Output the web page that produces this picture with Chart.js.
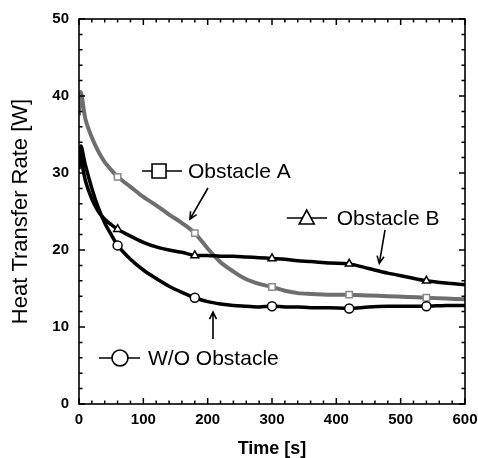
<!DOCTYPE html>
<html>
<head>
<meta charset="utf-8">
<script src="https://cdn.jsdelivr.net/npm/chart.js@4.4.1/dist/chart.umd.min.js"></script>
<style>
  body { margin: 0; background: #fff; }
</style>
</head>
<body>
<canvas id="heat-chart" width="478" height="458"></canvas>
<script>
// Heat transfer rate vs time, three cases

const times = [0, 3, 10, 20, 30, 40, 50, 60, 80, 100, 120, 140, 160, 180, 200, 220, 240, 260, 280, 300, 320, 340, 360, 390, 420, 450, 480, 510, 540, 570, 600]

const noObstacle = [30.5, 33.5, 31.0, 28.0, 25.5, 23.5, 22.0, 20.6, 18.8, 17.4, 16.3, 15.3, 14.5, 13.8, 13.3, 13.0, 12.8, 12.7, 12.6, 12.7, 12.6, 12.6, 12.5, 12.5, 12.4, 12.6, 12.7, 12.7, 12.7, 12.8, 12.8]
const obstacleA = [37.5, 40.5, 37.0, 34.6, 32.8, 31.4, 30.4, 29.5, 28.2, 26.9, 25.8, 24.6, 23.5, 22.2, 20.2, 18.4, 17.2, 16.2, 15.6, 15.2, 14.7, 14.4, 14.3, 14.2, 14.2, 14.1, 14.0, 13.9, 13.8, 13.7, 13.6]
const obstacleB = [33.0, 32.0, 29.0, 26.6, 25.0, 24.0, 23.3, 22.7, 21.8, 21.0, 20.4, 20.0, 19.7, 19.3, 19.3, 19.2, 19.2, 19.1, 19.0, 18.9, 18.8, 18.6, 18.5, 18.3, 18.2, 17.6, 17.0, 16.5, 16.0, 15.7, 15.5]

// times that carry a symbol
const markerTimes = [60, 180, 300, 420, 540]

const xTicks = [0, 100, 200, 300, 400, 500, 600]
const yTicks = [0, 10, 20, 30, 40, 50]

const FONT = '"Liberation Sans", Arial, sans-serif'
const GRAY = '#6e6e6e'

function toPoints(values) {
  return times.map((t, i) => ({ x: t, y: values[i] }))
}

function markerRadius(ctx) {
  const t = times[ctx.dataIndex]
  return markerTimes.includes(t) ? 4.5 : 0
}

// inward ticks on all four sides + frame
const frameTicks = {
  id: 'frameTicks',
  afterDatasetsDraw(chart) {
    const { ctx, chartArea: a, scales: { x, y } } = chart
    ctx.save()
    ctx.strokeStyle = '#000'
    ctx.lineWidth = 1.5
    ctx.beginPath()
    for (let v = x.min; v <= x.max; v += 20) {
      const px = x.getPixelForValue(v)
      const len = v % 100 === 0 ? 6 : 3.5
      ctx.moveTo(px, a.bottom); ctx.lineTo(px, a.bottom - len)
      ctx.moveTo(px, a.top); ctx.lineTo(px, a.top + len)
    }
    for (let v = y.min; v <= y.max; v += 2) {
      const py = y.getPixelForValue(v)
      const len = v % 10 === 0 ? 6 : 3.5
      ctx.moveTo(a.left, py); ctx.lineTo(a.left + len, py)
      ctx.moveTo(a.right, py); ctx.lineTo(a.right - len, py)
    }
    ctx.stroke()
    ctx.lineWidth = 1.6
    ctx.strokeRect(a.left, a.top, a.right - a.left, a.bottom - a.top)
    ctx.restore()
  }
}

// in-plot labels with symbols and arrows (positions in data units)
const labelNotes = [
  { text: 'Obstacle A', shape: 'rect', lineFrom: 98, lineTo: 160, mark: 124.4, textAt: 169.4, y: 30.26 },
  { text: 'Obstacle B', shape: 'triangle', lineFrom: 323, lineTo: 385.5, mark: 354, textAt: 400.6, y: 24.15 },
  { text: 'W/O Obstacle', shape: 'circle', lineFrom: 31, lineTo: 95, mark: 63.7, textAt: 107.3, y: 5.97 }
]
const arrowNotes = [
  { from: [200.5, 28.05], to: [172.5, 24.0] },
  { from: [475.7, 22.6], to: [466.8, 18.27] },
  { from: [208.3, 8.44], to: [208.3, 11.95] }
]

const notes = {
  id: 'notes',
  afterDraw(chart) {
    const { ctx, scales: { x, y } } = chart
    ctx.save()
    ctx.strokeStyle = '#000'
    ctx.fillStyle = '#000'
    ctx.lineWidth = 1.6

    labelNotes.forEach(n => {
      const py = y.getPixelForValue(n.y)
      ctx.beginPath()
      ctx.moveTo(x.getPixelForValue(n.lineFrom), py)
      ctx.lineTo(x.getPixelForValue(n.lineTo), py)
      ctx.stroke()
      const cx = x.getPixelForValue(n.mark)
      ctx.fillStyle = '#fff'
      ctx.beginPath()
      if (n.shape === 'rect') {
        ctx.rect(cx - 7, py - 7, 14, 14)
      } else if (n.shape === 'triangle') {
        ctx.moveTo(cx, py - 8)
        ctx.lineTo(cx + 7.5, py + 6)
        ctx.lineTo(cx - 7.5, py + 6)
        ctx.closePath()
      } else {
        ctx.arc(cx, py, 8, 0, Math.PI * 2)
      }
      ctx.fill()
      ctx.stroke()
      ctx.fillStyle = '#000'
      ctx.font = '21px ' + FONT
      ctx.textBaseline = 'middle'
      ctx.textAlign = 'left'
      ctx.fillText(n.text, x.getPixelForValue(n.textAt), py + 1)
    })

    arrowNotes.forEach(a => {
      const x1 = x.getPixelForValue(a.from[0]), y1 = y.getPixelForValue(a.from[1])
      const x2 = x.getPixelForValue(a.to[0]), y2 = y.getPixelForValue(a.to[1])
      const ang = Math.atan2(y2 - y1, x2 - x1)
      const head = 8
      ctx.beginPath()
      ctx.moveTo(x1, y1)
      ctx.lineTo(x2, y2)
      ctx.moveTo(x2 - head * Math.cos(ang - 0.45), y2 - head * Math.sin(ang - 0.45))
      ctx.lineTo(x2, y2)
      ctx.lineTo(x2 - head * Math.cos(ang + 0.45), y2 - head * Math.sin(ang + 0.45))
      ctx.stroke()
    })
    ctx.restore()
  }
}

const canvas = document.getElementById('heat-chart')

new Chart(canvas, {
  type: 'line',
  data: {
    datasets: [
      {
        label: 'W/O Obstacle',
        data: toPoints(noObstacle),
        borderColor: '#000',
        borderWidth: 3.5,
        tension: 0.3,
        pointStyle: 'circle',
        pointRadius: markerRadius,
        pointBorderColor: '#000',
        pointBackgroundColor: '#fff',
        pointBorderWidth: 1.5
      },
      {
        label: 'Obstacle B',
        data: toPoints(obstacleB),
        borderColor: '#000',
        borderWidth: 3.5,
        tension: 0.3,
        pointStyle: 'triangle',
        pointRadius: markerRadius,
        pointBorderColor: '#000',
        pointBackgroundColor: '#fff',
        pointBorderWidth: 1.5
      },
      {
        label: 'Obstacle A',
        data: toPoints(obstacleA),
        borderColor: GRAY,
        borderWidth: 4,
        tension: 0.3,
        pointStyle: 'rect',
        pointRadius: markerRadius,
        pointBorderColor: '#8a8a8a',
        pointBackgroundColor: '#fff',
        pointBorderWidth: 1.5
      }
    ]
  },
  options: {
    responsive: false,
    animation: false,
    devicePixelRatio: 1,
    layout: { padding: { top: 19, right: 13, left: 0, bottom: 0 } },
    plugins: {
      legend: { display: false },
      tooltip: { enabled: false }
    },
    scales: {
      x: {
        type: 'linear',
        min: 0,
        max: 600,
        afterBuildTicks: (s) => { s.ticks = xTicks.map(v => ({ value: v })) },
        afterFit: (s) => {
          s.height = 54
          s.paddingLeft = 0
          s.paddingRight = 0
        },
        grid: { display: false, drawTicks: false },
        border: { display: false },
        ticks: {
          color: '#000',
          padding: 7,
          maxRotation: 0,
          font: { family: FONT, size: 15, weight: 'bold' }
        },
        title: {
          display: true,
          text: 'Time [s]',
          color: '#000',
          padding: 0,
          font: { family: FONT, size: 18, weight: 'bold', lineHeight: 1 }
        }
      },
      y: {
        min: 0,
        max: 50,
        afterBuildTicks: (s) => { s.ticks = yTicks.map(v => ({ value: v })) },
        afterFit: (s) => {
          s.width = 79
          s.paddingTop = 0
          s.paddingBottom = 0
        },
        grid: { display: false, drawTicks: false },
        border: { display: false },
        ticks: {
          color: '#000',
          padding: 10,
          font: { family: FONT, size: 15, weight: 'bold' }
        },
        title: {
          display: true,
          text: 'Heat Transfer Rate [W]',
          color: '#000',
          padding: { top: 10, bottom: 0 },
          font: { family: FONT, size: 22, lineHeight: 1 }
        }
      }
    }
  },
  plugins: [frameTicks, notes]
})
</script>
</body>
</html>
